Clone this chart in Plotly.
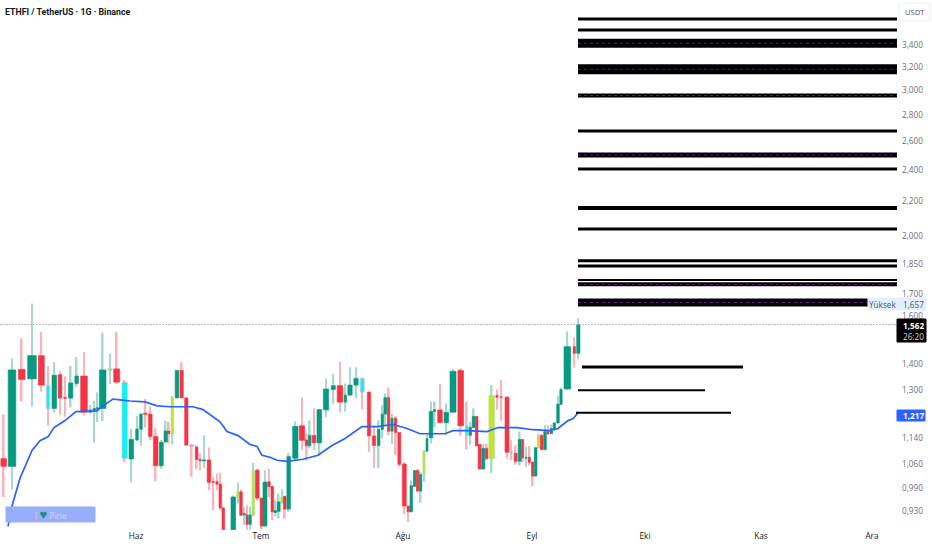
"""ETHFI / TetherUS daily chart with volume-width candles, EMA and level lines."""

import math

import plotly.graph_objects as go

PAGE_W = 932
PAGE_H = 550
PLOT_W = 898

GREEN = "#089981"
RED = "#f23645"
GREEN_WICK = "#a8d9cf"
RED_WICK = "#fbb4ba"
CYAN = "#00f7ff"
LIME = "#c5e617"
BLUE = "#2962ff"

# Days counted from the left edge of the chart
bar_day = [
    0.92, 3, 5.42, 8, 10.33, 12, 13.58, 15, 16.25, 17.67, 19.17, 21, 22.58, 23.58, 24.33, 25.67,
    27.5, 29.17, 31.17, 32.83, 34.25, 35.25, 36.33, 37.58, 38.92, 40.33, 41.42, 42.17, 43.08, 44.25,
    45.42, 46.58, 47.92, 49.17, 50, 51, 52.25, 53.33, 54.25, 55.08, 55.83, 58.33, 59.5, 60.25, 61.08,
    61.75, 62.5, 63.33, 64.33, 65.42, 66.25, 67.25, 68.08, 68.83, 69.67, 70.5, 71.17, 72.17, 73.83,
    75.5, 76.67, 77.42, 78.5, 79.83, 81.5, 83.33, 85, 86.33, 87.5, 89, 90.58, 92.25, 93.5, 94.67,
    95.58, 96.33, 97.17, 98, 98.92, 99.83, 101.08, 102.08, 102.83, 103.67, 104.42, 105.17, 106,
    106.75, 107.75, 108.67, 110, 111.58, 113.25, 115.17, 116.67, 117.58, 118.42, 119.17, 119.92,
    120.83, 121.67, 122.92, 124.25, 125.33, 126.75, 127.83, 128.92, 129.92, 130.67, 131.5, 132.33,
    133.17, 133.92, 134.67, 135.42, 136.25, 137, 137.83, 138.58, 139.5, 140.25, 141.83, 143.58, 144.58,
]
bar_volume = [
    17, 23, 20, 26, 18, 10, 14, 11, 8, 13, 11, 20, 8, 8, 6, 20, 12, 18, 16, 14, 8, 8, 11, 11, 14, 12,
    10, 8, 8, 11, 10, 10, 14, 8, 7, 11, 11, 6, 7, 8, 8, 14, 8, 8, 8, 6, 8, 8, 11, 9, 12, 8, 8, 8, 9, 8,
    8, 11, 16, 16, 8, 8, 11, 14, 16, 12, 17, 7, 13, 13, 12, 10, 10, 8, 7, 9, 7, 7, 7, 9, 12, 8, 8, 7,
    7, 7, 7, 6, 11, 6, 14, 14, 18, 17, 8, 8, 9, 8, 9, 9, 8, 17, 7, 6, 12, 7, 9, 9, 6, 6, 7, 7, 8, 6, 8,
    8, 6, 7, 7, 8, 7, 20, 7, 10,
]
bar_open = [
    1.076, 1.053, 1.379, 1.343, 1.433, 1.320, 1.237, 1.359, 1.276, 1.273, 1.326, 1.354, 1.224, 1.230,
    1.234, 1.237, 1.375, 1.381, 1.330, 1.075, 1.133, 1.167, 1.221, 1.218, 1.144, 1.055, 1.127, 1.162,
    1.152, 1.274, 1.375, 1.274, 1.118, 1.111, 1.074, 1.069, 1.072, 1.010, 1.009, 1.002, 0.938, 0.883,
    0.965, 0.981, 0.920, 0.920, 0.896, 0.919, 1.042, 0.964, 0.892, 1.009, 0.996, 0.926, 0.929, 0.954,
    0.969, 0.935, 1.077, 1.179, 1.133, 1.115, 1.148, 1.124, 1.232, 1.304, 1.318, 1.259, 1.284, 1.320,
    1.345, 1.295, 1.146, 1.116, 1.167, 1.218, 1.275, 1.161, 1.204, 1.157, 1.060, 0.943, 0.928, 0.996,
    1.041, 0.983, 1.029, 1.098, 1.140, 1.226, 1.232, 1.189, 1.224, 1.375, 1.179, 1.148, 1.173, 1.210,
    1.119, 1.045, 1.107, 1.076, 1.283, 1.278, 1.277, 1.098, 1.092, 1.068, 1.135, 1.077, 1.080, 1.066,
    1.025, 1.109, 1.147, 1.103, 1.160, 1.153, 1.169, 1.188, 1.251, 1.306, 1.469, 1.442,
]
bar_close = [
    1.053, 1.377, 1.341, 1.433, 1.320, 1.236, 1.357, 1.273, 1.272, 1.328, 1.354, 1.224, 1.232, 1.237,
    1.240, 1.377, 1.382, 1.331, 1.076, 1.135, 1.168, 1.218, 1.217, 1.144, 1.055, 1.126, 1.162, 1.153,
    1.275, 1.375, 1.274, 1.117, 1.113, 1.073, 1.070, 1.072, 1.007, 1.007, 1.002, 0.938, 0.883, 0.967,
    0.981, 0.919, 0.924, 0.896, 0.920, 1.041, 0.964, 0.892, 1.008, 0.995, 0.928, 0.931, 0.954, 0.967,
    0.935, 1.082, 1.177, 1.132, 1.115, 1.148, 1.124, 1.233, 1.306, 1.318, 1.259, 1.284, 1.320, 1.345,
    1.294, 1.146, 1.116, 1.167, 1.218, 1.275, 1.161, 1.204, 1.157, 1.059, 0.943, 0.928, 0.998, 1.041,
    0.983, 1.029, 1.098, 1.138, 1.227, 1.233, 1.189, 1.224, 1.372, 1.179, 1.147, 1.174, 1.210, 1.115,
    1.045, 1.107, 1.076, 1.282, 1.276, 1.275, 1.095, 1.091, 1.068, 1.135, 1.078, 1.080, 1.065, 1.025,
    1.109, 1.146, 1.103, 1.160, 1.152, 1.170, 1.188, 1.252, 1.304, 1.469, 1.442, 1.562,
]
bar_high = [
    1.217, 1.422, 1.503, 1.656, 1.531, 1.392, 1.407, 1.372, 1.353, 1.392, 1.427, 1.446, 1.249, 1.264,
    1.294, 1.527, 1.440, 1.531, 1.339, 1.170, 1.211, 1.220, 1.270, 1.243, 1.170, 1.133, 1.195, 1.192,
    1.281, 1.376, 1.407, 1.276, 1.120, 1.117, 1.091, 1.148, 1.110, 1.023, 1.032, 1.034, 0.941, 0.971,
    1.007, 0.988, 0.941, 0.945, 0.941, 1.063, 1.046, 0.965, 1.042, 1.046, 0.996, 0.958, 0.976, 0.988,
    0.969, 1.093, 1.194, 1.275, 1.154, 1.196, 1.238, 1.234, 1.345, 1.361, 1.410, 1.326, 1.387, 1.387,
    1.348, 1.296, 1.179, 1.197, 1.249, 1.290, 1.311, 1.218, 1.211, 1.157, 1.066, 0.943, 1.013, 1.042,
    1.045, 1.037, 1.102, 1.149, 1.261, 1.261, 1.325, 1.254, 1.381, 1.383, 1.261, 1.192, 1.237, 1.211,
    1.120, 1.122, 1.122, 1.320, 1.304, 1.339, 1.278, 1.133, 1.117, 1.160, 1.135, 1.112, 1.114, 1.066,
    1.112, 1.152, 1.152, 1.181, 1.181, 1.183, 1.191, 1.281, 1.311, 1.533, 1.510, 1.590,
]
bar_low = [
    0.967, 0.988, 1.261, 1.243, 1.296, 1.179, 1.224, 1.216, 1.209, 1.241, 1.314, 1.213, 1.220, 1.125,
    1.191, 1.195, 1.324, 1.325, 1.065, 1.007, 1.131, 1.115, 1.173, 1.133, 1.010, 1.046, 1.126, 1.122,
    1.120, 1.273, 1.273, 1.117, 1.023, 1.045, 1.042, 1.048, 0.985, 0.932, 0.987, 0.932, 0.883, 0.883,
    0.950, 0.917, 0.895, 0.883, 0.883, 0.916, 0.958, 0.883, 0.890, 0.967, 0.907, 0.916, 0.911, 0.950,
    0.910, 0.928, 1.071, 1.102, 1.071, 1.107, 1.102, 1.084, 1.208, 1.254, 1.224, 1.226, 1.282, 1.273,
    1.234, 1.097, 1.048, 1.048, 1.138, 1.181, 1.149, 1.120, 1.086, 1.052, 0.922, 0.902, 0.927, 0.995,
    0.982, 0.952, 1.009, 1.097, 1.122, 1.175, 1.189, 1.149, 1.224, 1.147, 1.104, 1.118, 1.173, 1.114,
    1.045, 1.044, 1.071, 1.034, 1.232, 1.195, 1.076, 1.071, 1.058, 1.056, 1.066, 1.052, 1.056, 0.996,
    1.024, 1.107, 1.102, 1.102, 1.152, 1.152, 1.167, 1.186, 1.249, 1.302, 1.387, 1.419,
]
# Candles repainted by the indicator (1-based position in the series)
cyan_bars = [6, 19, 33, 71, 95, 106]
lime_bars = [17, 29, 43, 48, 56, 87, 102, 114]

ema_day = [
    2, 3, 5, 8, 10, 12, 13.5, 16.25, 19, 24.25, 25.75, 28.25, 30, 32.5, 36.25, 39.25, 42.5, 48.25,
    50.75, 55, 56.75, 59.5, 62.5, 64.25, 65.5, 67.5, 69.25, 71.75, 75.75, 79.5, 83, 86.25, 90.5,
    94.25, 98.25, 101.75, 105, 111.25, 113.25, 116.75, 121.75, 124.5, 129.25, 133.25, 137.5, 139.5,
    142, 143.25, 144.5,
]
ema_value = [
    0.891, 0.943, 1.019, 1.101, 1.131, 1.143, 1.173, 1.196, 1.226, 1.229, 1.246, 1.270, 1.267, 1.263,
    1.260, 1.246, 1.243, 1.243, 1.233, 1.192, 1.160, 1.147, 1.119, 1.113, 1.086, 1.080, 1.071, 1.068,
    1.074, 1.086, 1.116, 1.138, 1.176, 1.176, 1.183, 1.170, 1.153, 1.153, 1.163, 1.163, 1.160, 1.173,
    1.173, 1.166, 1.163, 1.170, 1.196, 1.202, 1.222,
]

level_price = [
    3.655, 3.545, 3.416, 3.178, 2.954, 2.677, 2.504, 2.408, 2.161, 2.038, 1.865, 1.839, 1.768, 1.747, 1.661,
    1.388, 1.301, 1.222,
]
level_start = [144.5] * 15 + [145.5, 144.5, 144]
level_end = [224.25] * 15 + [185.75, 176.25, 182.75]
level_strength = [3, 3, 9, 10, 4, 3, 5, 3, 4, 3, 3, 3, 2, 4, 8, 3, 2, 2]
dashed_levels = [3.416, 3.178, 2.954, 2.504, 1.747, 1.661]

price_ticks = [3.4, 3.2, 3.0, 2.8, 2.6, 2.4, 2.2, 2.0, 1.85, 1.7, 1.6, 1.4, 1.3, 1.14, 1.06, 0.99, 0.93]
price_labels = [
    "3,400", "3,200", "3,000", "2,800", "2,600", "2,400", "2,200", "2,000", "1,850", "1,700", "1,600",
    "1,400", "1,300", "1,140", "1,060", "0,990", "0,930",
]
month_days = [34, 65.25, 100.75, 133, 161.25, 190.25, 218]
month_labels = ["Haz", "Tem", "Ağu", "Eyl", "Eki", "Kas", "Ara"]

last_price = bar_close[-1]


def paper_x(px):
    return px / PAGE_W


def paper_y(py):
    # paper y runs over the plot height only, the margin at the bottom is below 0
    return 1 - py / (PAGE_H - 20)


body_base = [min(o, c) for o, c in zip(bar_open, bar_close)]
body_size = [abs(c - o) for o, c in zip(bar_open, bar_close)]
body_width = [v / 12 for v in bar_volume]
is_up = [c >= o for o, c in zip(bar_open, bar_close)]

body_color = [GREEN if up else RED for up in is_up]
wick_color = [GREEN_WICK if up else RED_WICK for up in is_up]
border_color = list(body_color)
for n in cyan_bars:
    body_color[n - 1] = CYAN
    border_color[n - 1] = wick_color[n - 1]
for n in lime_bars:
    body_color[n - 1] = LIME
    border_color[n - 1] = wick_color[n - 1]

fig = go.Figure()

# Wicks as thin bars, plotly would paint scatter lines on top of the bodies
fig.add_trace(go.Bar(
    x=bar_day,
    y=[h - l for h, l in zip(bar_high, bar_low)],
    base=bar_low,
    width=0.42,
    marker=dict(color=wick_color, line=dict(width=0)),
    hoverinfo="skip",
))
fig.add_trace(go.Bar(
    x=bar_day,
    y=body_size,
    base=body_base,
    width=body_width,
    marker=dict(color=body_color, line=dict(color=border_color, width=0.6)),
    hoverinfo="skip",
))

fig.add_trace(go.Scatter(
    x=ema_day,
    y=ema_value,
    mode="lines",
    line=dict(color=BLUE, width=1.7),
    hoverinfo="skip",
))

for price, start, end, strength in zip(level_price, level_start, level_end, level_strength):
    fig.add_trace(go.Scatter(
        x=[start, end],
        y=[price, price],
        mode="lines",
        line=dict(color="#000000", width=strength),
        hoverinfo="skip",
    ))
    if price in dashed_levels:
        fig.add_trace(go.Scatter(
            x=[start, end],
            y=[price, price],
            mode="lines",
            line=dict(color="#5a1a80", width=1, dash="3px,3px"),
            hoverinfo="skip",
        ))

# Last price line
fig.add_shape(
    type="line", xref="x", yref="y", x0=0, x1=PLOT_W / 4, y0=last_price, y1=last_price,
    line=dict(color="#b2b5be", width=1, dash="2px,1px"),
)

# Scale chips and the badge sit in page coordinates
boxes = [
    (899, 3, 930, 21, "#ffffff", "#eef0f3"),
    (868, 298, 926, 310, "#e3effd", "#e3effd"),
    (897, 319, 926, 342, "#000000", "#000000"),
    (897, 410, 925, 421, BLUE, BLUE),
    (6, 507, 95, 522, "#98aefb", "#98aefb"),
]
for x0, y0, x1, y1, fill, edge in boxes:
    fig.add_shape(
        type="rect", xref="paper", yref="paper",
        x0=paper_x(x0), x1=paper_x(x1), y0=paper_y(y0), y1=paper_y(y1),
        fillcolor=fill, line=dict(color=edge, width=1), layer="above",
    )

FONT = "Open Sans"
TITLE_FONT = "Roboto"
texts = [
    (3, 12, "<b>ETHFI / TetherUS · 1G · Binance</b>", 8.8, "#131722", "left", TITLE_FONT),
    (915, 12, "USDT", 7.6, "#50535e", "center", FONT),
    (882.5, 304, "Yüksek", 8.2, "#50535e", "center", FONT),
    (913, 304, "1,657", 8.2, "#50535e", "center", FONT),
    (913, 325, "<b>1,562</b>", 8.2, "#ffffff", "center", FONT),
    (913, 336, "26:20", 8.2, "#d8d8d8", "center", FONT),
    (913, 415, "<b>1,217</b>", 8.2, "#ffffff", "center", FONT),
    (51, 514, 'I <span style="color:#1c8f7c;font-size:13px">♥</span> Pine', 8.5, "#ccd6fd", "center", FONT),
]
for px, py, text, size, color, align, family in texts:
    fig.add_annotation(
        xref="paper", yref="paper", x=paper_x(px), y=paper_y(py),
        text=text, showarrow=False, xanchor=align, yanchor="middle",
        font=dict(family=family, size=size, color=color),
    )

fig.update_layout(
    width=PAGE_W,
    height=PAGE_H,
    margin=dict(l=0, r=0, t=0, b=20, autoexpand=False),
    paper_bgcolor="#ffffff",
    plot_bgcolor="#ffffff",
    barmode="overlay",
    showlegend=False,
    xaxis=dict(
        domain=[0, PLOT_W / PAGE_W],
        range=[0, PLOT_W / 4],
        tickmode="array",
        tickvals=month_days,
        ticktext=month_labels,
        tickfont=dict(family=FONT, size=8.3, color="#131722"),
        showgrid=False,
        zeroline=False,
        showline=False,
        ticks="",
        automargin=False,
    ),
    yaxis=dict(
        type="log",
        side="right",
        range=[math.log10(0.8822), math.log10(3.853)],
        tickmode="array",
        tickvals=price_ticks,
        ticktext=price_labels,
        tickfont=dict(family=FONT, size=8.2, color="#6a6d78"),
        ticklabelstandoff=3,
        showgrid=False,
        zeroline=False,
        showline=False,
        ticks="",
        automargin=False,
    ),
)

fig.write_html(
    "out.html",
    config={"displayModeBar": False},
    post_script="document.body.style.margin='0';",
)
